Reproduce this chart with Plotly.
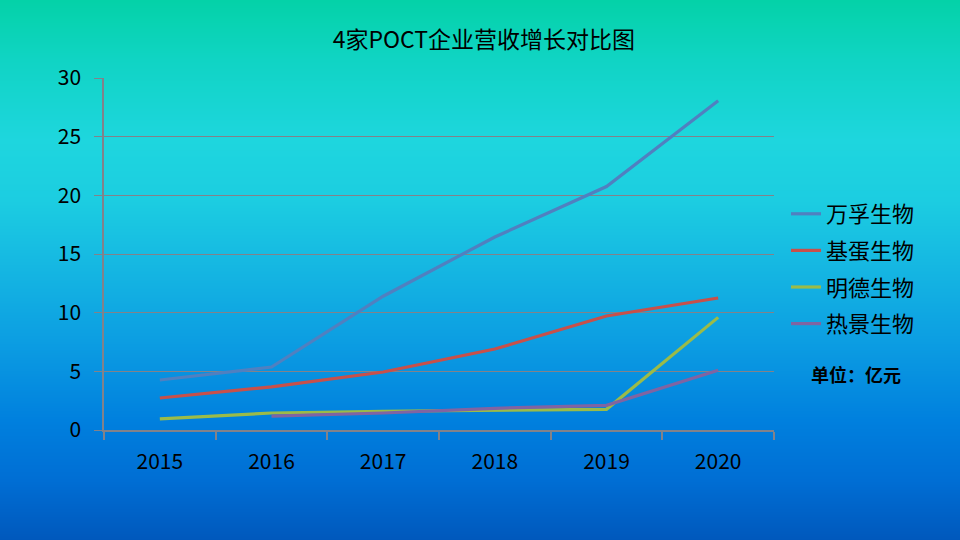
import base64, struct, zlib
import plotly.graph_objects as go

years = ["2015", "2016", "2017", "2018", "2019", "2020"]
wanfu = [4.26, 5.37, 11.4, 16.45, 20.75, 28.07]
jidan = [2.73, 3.67, 4.94, 6.9, 9.72, 11.25]
mingde = [0.94, 1.45, 1.6, 1.7, 1.76, 9.6]
rejing = [None, 1.19, 1.45, 1.85, 2.1, 5.1]
series_names = ["万孚生物", "基蛋生物", "明德生物", "热景生物"]
series_colors = ["#5080C0", "#C8504A", "#9BBB48", "#8064A2"]
y_ticks = [0, 5, 10, 15, 20, 25, 30]

# --- vertical gradient background as an inline PNG ---
stops = [(0, (4, 210, 168)), (60, (16, 212, 196)), (140, (30, 214, 222)),
         (200, (28, 205, 225)), (260, (22, 185, 226)), (340, (12, 158, 226)),
         (420, (0, 128, 222)), (480, (0, 110, 212)), (540, (0, 88, 188))]
H, W = 540, 4
def col(y):
    for (y0, c0), (y1, c1) in zip(stops[:-1], stops[1:]):
        if y0 <= y <= y1:
            t = (y - y0) / (y1 - y0)
            return tuple(int(round(a + (b - a) * t)) for a, b in zip(c0, c1))
    return stops[-1][1]
raw = b"".join(b"\x00" + bytes(col(y)) * W for y in range(H))
def chunk(tag, data):
    return struct.pack(">I", len(data)) + tag + data + struct.pack(">I", zlib.crc32(tag + data) & 0xffffffff)
png = b"\x89PNG\r\n\x1a\n" + chunk(b"IHDR", struct.pack(">IIBBBBB", W, H, 8, 2, 0, 0, 0)) \
      + chunk(b"IDAT", zlib.compress(raw)) + chunk(b"IEND", b"")
uri = "data:image/png;base64," + base64.b64encode(png).decode()

L, R, T, B = 104, 186, 78, 110
pw, ph = 960 - L - R, 540 - T - B

fig = go.Figure()
for name, vals, c in zip(series_names, [wanfu, jidan, mingde, rejing], series_colors):
    fig.add_trace(go.Scatter(x=years, y=vals, name=name, mode="lines",
                             line=dict(color=c, width=3.2), legendgroup=name,
                             connectgaps=False))

grid = "#82828A"
font_main = "Noto Sans CJK SC, sans-serif"
fig.update_layout(
    width=960, height=540,
    margin=dict(l=L, r=R, t=T, b=B),
    paper_bgcolor="#0A9CE0", plot_bgcolor="rgba(0,0,0,0)",
    font=dict(family=font_main, color="black"),
    title=dict(text="4家POCT企业营收增长对比图", x=0.504, xanchor="center",
               y=1 - 40 / 540, yanchor="middle", font=dict(size=23, color="black")),
    xaxis=dict(type="category", showgrid=False, showline=True, linecolor=grid, linewidth=1.5,
               ticks="outside", tickson="boundaries", ticklen=8, tickcolor=grid, tickwidth=1.5,
               tickfont=dict(size=21), ticklabelstandoff=12, range=[-0.5, 5.5],
               zeroline=False),
    yaxis=dict(range=[0, 30], tickvals=y_ticks, showgrid=True, gridcolor=grid, gridwidth=1.3,
               showline=True, linecolor=grid, linewidth=1.5, ticks="outside", ticklen=8,
               tickcolor=grid, tickwidth=1.3, tickfont=dict(size=21), ticklabelstandoff=9,
               zeroline=False),
    legend=dict(x=(786 - L) / pw, xanchor="left", y=1 - (193 - T) / ph, yanchor="top",
                font=dict(size=22, color="black"), bgcolor="rgba(0,0,0,0)",
                tracegroupgap=5, itemwidth=30),
    images=[dict(source=uri, xref="paper", yref="paper", x=-L / pw, y=1 + T / ph,
                 sizex=960 / pw, sizey=540 / ph, sizing="stretch", layer="below",
                 xanchor="left", yanchor="top")],
    annotations=[dict(text="<b>单位：亿元</b>", xref="paper", yref="paper",
                      x=(856 - L) / pw, y=1 - (374 - T) / ph, showarrow=False,
                      xanchor="center", yanchor="middle", font=dict(size=18, color="black"))],
    showlegend=True,
)
fig.write_html("out.html", config={"displayModeBar": False},
               post_script="document.body.style.margin='0';")
